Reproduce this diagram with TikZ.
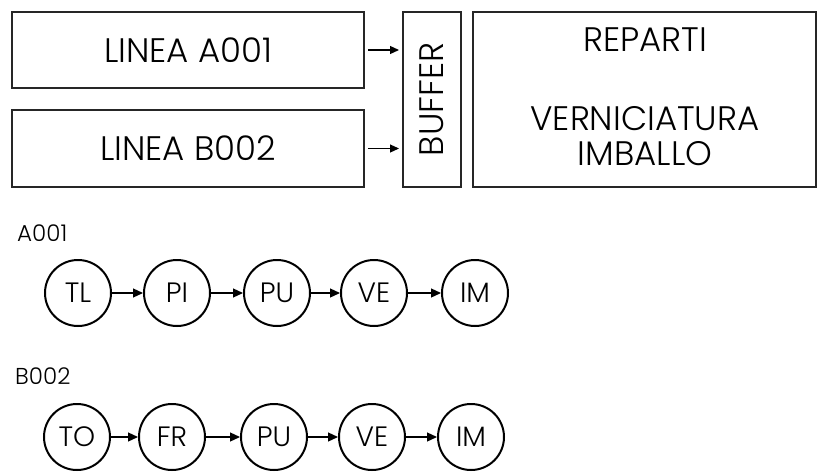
\documentclass[tikz,border=0pt]{standalone}
\usepackage{fontspec}
\setmainfont{Poppins Light}
\usetikzlibrary{arrows.meta}
\begin{document}
\begin{tikzpicture}[x=1pt,y=-1pt,
  boxst/.style={draw=black!85,line width=1.6pt},
  boxtext/.style={font=\fontsize{34}{38}\selectfont},
  circst/.style={draw,circle,line width=2pt,minimum size=66pt,inner sep=0pt,font=\fontsize{28}{32}\selectfont},
  lbl/.style={anchor=west,inner sep=0pt,font=\fontsize{23}{26}\selectfont},
  arr/.style={line width=1.2pt,-{Triangle[length=10pt,width=9pt]}},
  sarr/.style={line width=1.2pt,-{Triangle[length=9pt,width=8pt]},shorten >=4pt,shorten <=4pt}]
\useasboundingbox (0,0) rectangle (817,472);
% top boxes
\draw[boxst] (12,12) rectangle (364,88);
\node[boxtext] (la) at (188,50) {LINEA A001};
\draw[boxst] (12,110) rectangle (364,187);
\node[boxtext] (lb) at (188,148.5) {LINEA B002};
\coordinate (ae) at (364,50);
\coordinate (be) at (364,148.5);
\draw[boxst] (403,12) rectangle (461,187);
\node[boxtext,rotate=90] (buf) at (432,99.5) {BUFFER};
\coordinate (bwa) at (403,50);
\coordinate (bwb) at (403,148.5);
\draw[sarr] (ae) -- (bwa);
\draw[sarr] (be) -- (bwb);
\draw[boxst] (473,12) rectangle (816,187);
\node[boxtext] (rep) at (645,40) {REPARTI};
\node[boxtext] (ver) at (645,119) {VERNICIATURA};
\node[boxtext] (imb) at (645,154) {IMBALLO};
% row A
\node[lbl] (lA) at (17,233) {A001};
\node[circst] (a1) at (78,293) {TL};
\node[circst] (a2) at (177,293) {PI};
\node[circst] (a3) at (277,293) {PU};
\node[circst] (a4) at (374,293) {VE};
\node[circst] (a5) at (475,293) {IM};
\draw[arr] (a1) -- (a2);
\draw[arr] (a2) -- (a3);
\draw[arr] (a3) -- (a4);
\draw[arr] (a4) -- (a5);
% row B
\node[lbl] (lB) at (15,376) {B002};
\node[circst] (b1) at (77,437) {TO};
\node[circst] (b2) at (172,437) {FR};
\node[circst] (b3) at (274,437) {PU};
\node[circst] (b4) at (372,437) {VE};
\node[circst] (b5) at (471,437) {IM};
\draw[arr] (b1) -- (b2);
\draw[arr] (b2) -- (b3);
\draw[arr] (b3) -- (b4);
\draw[arr] (b4) -- (b5);
\end{tikzpicture}
\end{document}
